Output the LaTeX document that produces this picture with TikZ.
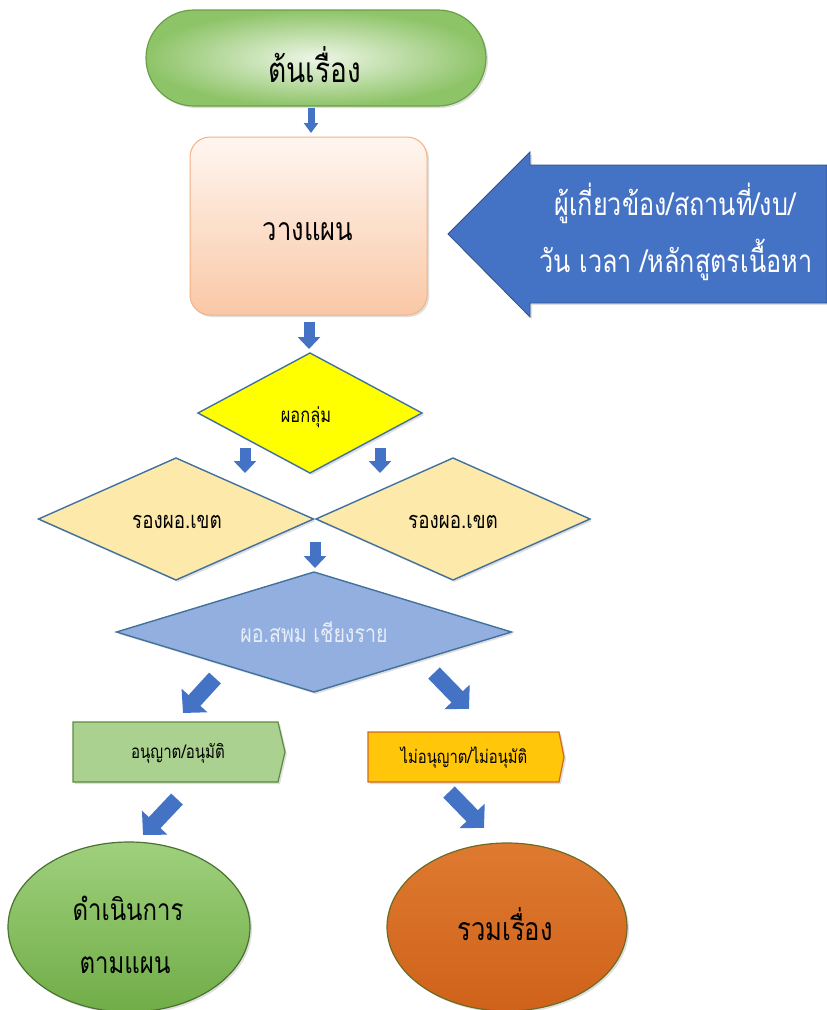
\documentclass[tikz,border=0pt]{standalone}
\usepackage{fontspec}
\newfontfamily\thai[Script=Thai,FakeStretch=0.8]{Loma}
\usetikzlibrary{shapes.geometric,arrows.meta,calc,shadows}
\definecolor{ablue}{HTML}{4472C4}
\definecolor{dblue}{HTML}{2F528F}
\definecolor{bdr}{HTML}{41719C}
\definecolor{gA}{HTML}{EEF6E7}
\definecolor{gB}{HTML}{8EC468}
\definecolor{gBd}{HTML}{6A9F45}
\definecolor{pA}{HTML}{FFF6F0}
\definecolor{pB}{HTML}{F9C8A6}
\definecolor{pBd}{HTML}{F4B183}
\definecolor{yA}{HTML}{FFFF00}
\definecolor{lyA}{HTML}{FDE9A9}
\definecolor{blA}{HTML}{93AFE0}
\definecolor{okA}{HTML}{AAD18F}
\definecolor{okBd}{HTML}{5E8A3C}
\definecolor{noA}{HTML}{FFC60A}
\definecolor{noBd}{HTML}{D26A22}
\definecolor{elG1}{HTML}{9FD07D}
\definecolor{elG2}{HTML}{70AD47}
\definecolor{elGd}{HTML}{4A7230}
\definecolor{elO1}{HTML}{DE7A30}
\definecolor{elO2}{HTML}{D0621A}
\definecolor{elOd}{HTML}{6E6A22}
\definecolor{lighttxt}{HTML}{E8EEF8}
\begin{document}
\begin{tikzpicture}[x=1pt,y=-1pt,
  txt/.style={font=\thai, inner sep=0pt, anchor=base},
  shp/.style={inner sep=0pt, outer sep=0pt},
  dshadow/.style={drop shadow={opacity=0.25, shadow xshift=2pt, shadow yshift=-2pt}},
  dmd/.style={shp, diamond, draw=bdr, line width=1.4pt, dshadow},
  blkS/.style={draw=ablue, line width=7pt, -{Triangle[width=14pt,length=10pt]}},
  blkM/.style={draw=ablue, line width=11pt, -{Triangle[width=22pt,length=12pt]}},
  blkD/.style={draw=ablue, line width=16pt, -{Triangle[width=34pt,length=17pt]}},
]
\useasboundingbox (0,0) rectangle (827,1010);

% start
\node[shp, rectangle, rounded corners=48pt, minimum width=340pt, minimum height=96pt,
  draw=gBd, line width=1.2pt, inner color=gA, outer color=gB, dshadow] (start) at (316,58) {};
\node[txt, font=\thai\fontsize{35}{40}\selectfont] (starttxt) at (314.5,82) {ต้นเรื่อง};

% plan box
\node[shp, rectangle, rounded corners=20pt, minimum width=237pt, minimum height=178pt,
  draw=pBd, line width=1pt, top color=pA, bottom color=pB, dshadow] (plan) at (308.5,226) {};
\node[txt, font=\thai\fontsize{32}{36}\selectfont] (plantxt) at (308,240) {วางแผน};

% big left arrow
\path[fill=ablue, draw=dblue, line width=0.8pt, dshadow]
  (448,234) -- (530,152) -- (530,165) -- (827,165) -- (827,303) -- (530,303) -- (530,317) -- cycle;
\node[txt, text=white, font=\thai\fontsize{31.5}{34}\selectfont] (info1) at (675,215) {ผู้เกี่ยวข้อง/สถานที่/งบ/};
\node[txt, text=white, font=\thai\fontsize{31.5}{34}\selectfont] (info2) at (676,272) {วัน เวลา /หลักสูตรเนื้อหา};

% diamonds
\node[dmd, fill=yA, minimum width=224pt, minimum height=120pt] (grp) at (310,413) {};
\node[txt, font=\thai\fontsize{20.5}{24}\selectfont] (grptxt) at (306,422) {ผอกลุ่ม};

\node[dmd, fill=lyA, minimum width=275pt, minimum height=122pt] (depL) at (176,519) {};
\node[txt, font=\thai\fontsize{23.5}{26}\selectfont] (depLtxt) at (177,528) {รองผอ.เขต};
\node[dmd, fill=lyA, minimum width=274pt, minimum height=122pt] (depR) at (453,519) {};
\node[txt, font=\thai\fontsize{23.5}{26}\selectfont] (depRtxt) at (453,528) {รองผอ.เขต};

\node[dmd, fill=blA, minimum width=395pt, minimum height=120pt] (dir) at (314,632) {};
\node[txt, text=lighttxt, font=\thai\fontsize{24.5}{28}\selectfont] (dirtxt) at (314,642) {ผอ.สพม เชียงราย};

% tag boxes
\path[fill=okA, draw=okBd, line width=1.2pt, dshadow]
  (73,722) -- (278,722) -- (285,752) -- (278,782) -- (73,782) -- cycle;
\node[txt, font=\thai\fontsize{18.8}{22}\selectfont] (ok) at (178,758) {อนุญาต/อนุมัติ};
\path[fill=noA, draw=noBd, line width=1.2pt, dshadow]
  (368,732) -- (559,732) -- (564,757) -- (559,782) -- (368,782) -- cycle;
\node[txt, font=\thai\fontsize{18.5}{22}\selectfont] (no) at (464,763) {ไม่อนุญาต/ไม่อนุมัติ};

% ellipses
\node[shp, ellipse, minimum width=242pt, minimum height=170pt, draw=elGd, line width=1.2pt,
  top color=elG1, bottom color=elG2, dshadow] (go) at (129,927) {};
\node[txt, font=\thai\fontsize{30}{40}\selectfont] (go1) at (128,920) {ดำเนินการ};
\node[txt, font=\thai\fontsize{30}{40}\selectfont] (go2) at (125,973) {ตามแผน};
\node[shp, ellipse, minimum width=240pt, minimum height=168pt, draw=elOd, line width=1.2pt,
  top color=elO1, bottom color=elO2, dshadow] (coll) at (507,927) {};
\node[txt, font=\thai\fontsize{32}{40}\selectfont] (colltxt) at (505,940) {รวมเรื่อง};

% connectors
\draw[blkS] ($(start.south)+(-5,2)$) -- ($(plan.north)+(2.5,-4)$);
\draw[blkM] ($(plan.south)+(0.5,7)$) -- ($(grp.north)+(-1,-4)$);
\draw[blkM] (245,448) -- (245,473);
\draw[blkM] (380,448) -- (380,473);
\draw[blkM] ($(dir.north)+(1,-30)$) -- ($(dir.north)+(1,-4)$);
\draw[blkD] (215,678) -- (183,713);
\draw[blkD] (434,673) -- (469,709);
\draw[blkD] (177,799) -- (143,835);
\draw[blkD] (449,792) -- (484,828);
\end{tikzpicture}
\end{document}
